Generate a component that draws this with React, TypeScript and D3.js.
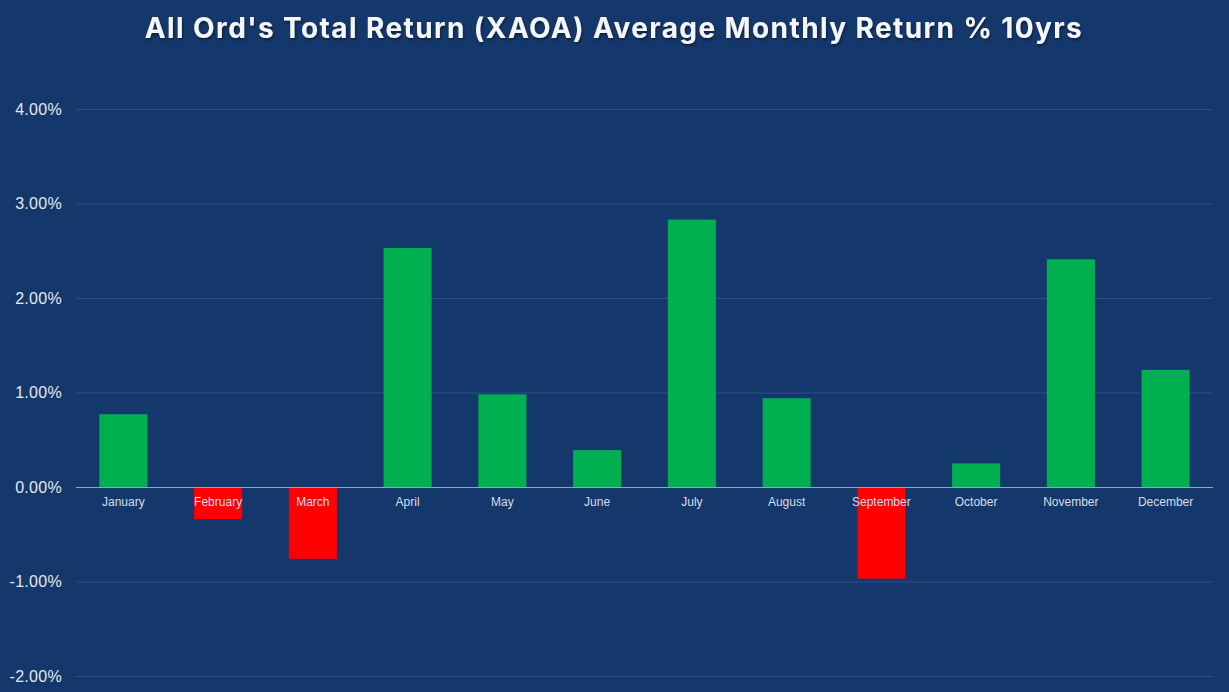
import React, { useEffect, useRef } from "react";
import * as d3 from "d3";

const months = [
  "January",
  "February",
  "March",
  "April",
  "May",
  "June",
  "July",
  "August",
  "September",
  "October",
  "November",
  "December",
];

// average monthly return, percent
const returns = [0.77, -0.34, -0.76, 2.53, 0.98, 0.39, 2.83, 0.94, -0.97, 0.25, 2.41, 1.24];

const yTicks = [-2, -1, 0, 1, 2, 3, 4];

const W = 1229;
const H = 692;

export default function App() {
  const ref = useRef<SVGSVGElement>(null);

  useEffect(() => {
    document.body.style.margin = "0";
    if (!ref.current) return;
    const svg = d3.select(ref.current);
    svg.selectAll("*").remove();

    svg
      .append("rect")
      .attr("width", W)
      .attr("height", H)
      .attr("fill", "#15386c");

    const data = months.map((m, i) => ({ month: m, value: returns[i] }));

    const x = d3
      .scaleBand()
      .domain(months)
      .range([76, 1213])
      .paddingInner(0.493)
      .paddingOuter(0.2465);

    const y = d3.scaleLinear().domain([-2, 4]).range([676, 109]);

    // gridlines
    svg
      .append("g")
      .selectAll("line")
      .data(yTicks.filter((t) => t !== 0))
      .enter()
      .append("line")
      .attr("x1", 76)
      .attr("x2", 1213)
      .attr("y1", (d) => y(d) + 0.5)
      .attr("y2", (d) => y(d) + 0.5)
      .attr("stroke", "#2e5085")
      .attr("stroke-width", 1);

    // y tick labels (plain hyphen for the minus, like the original)
    svg
      .append("g")
      .selectAll("text")
      .data(yTicks)
      .enter()
      .append("text")
      .attr("x", 62)
      .attr("y", (d) => y(d))
      .attr("dy", "0.35em")
      .attr("text-anchor", "end")
      .style("font-family", "'Liberation Sans', Arial, sans-serif")
      .style("font-size", "16px")
      .style("letter-spacing", "0.3px")
      .style("fill", "#e4e8f0")
      .text((d) => d.toFixed(2) + "%");

    // bars
    svg
      .append("g")
      .selectAll("rect")
      .data(data)
      .enter()
      .append("rect")
      .attr("x", (d) => x(d.month) as number)
      .attr("width", x.bandwidth())
      .attr("y", (d) => y(Math.max(0, d.value)))
      .attr("height", (d) => Math.abs(y(d.value) - y(0)))
      .attr("fill", (d) => (d.value >= 0 ? "#00b050" : "#ff0000"));

    // zero axis line
    svg
      .append("line")
      .attr("x1", 76)
      .attr("x2", 1213)
      .attr("y1", y(0) + 0.5)
      .attr("y2", y(0) + 0.5)
      .attr("stroke", "#8ea5c8")
      .attr("stroke-width", 1);

    // month labels
    svg
      .append("g")
      .selectAll("text")
      .data(months)
      .enter()
      .append("text")
      .attr("x", (d) => (x(d) as number) + x.bandwidth() / 2)
      .attr("y", y(0) + 15)
      .attr("dy", "0.35em")
      .attr("text-anchor", "middle")
      .style("font-family", "'Liberation Sans', Arial, sans-serif")
      .style("font-size", "12px")
      .style("fill", "#d8dde8")
      .text((d) => d);

    // title
    const defs = svg.append("defs");
    const f = defs.append("filter").attr("id", "shadow");
    f.append("feDropShadow")
      .attr("dx", 1)
      .attr("dy", 2)
      .attr("stdDeviation", 1.5)
      .attr("flood-color", "#000")
      .attr("flood-opacity", 0.45);

    svg
      .append("text")
      .attr("x", 614)
      .attr("y", 38)
      .attr("text-anchor", "middle")
      .attr("filter", "url(#shadow)")
      .style("font-family", "Inter, 'Open Sans', sans-serif")
      .style("font-weight", 700)
      .style("font-size", "28px")
      .style("letter-spacing", "1.4px")
      .style("fill", "#f5f6f8")
      .text("All Ord's Total Return (XAOA) Average Monthly Return % 10yrs");
  }, []);

  return (
    <div style={{ position: "absolute", left: 0, top: 0 }}>
      <svg ref={ref} width={W} height={H} style={{ display: "block" }} />
    </div>
  );
}
